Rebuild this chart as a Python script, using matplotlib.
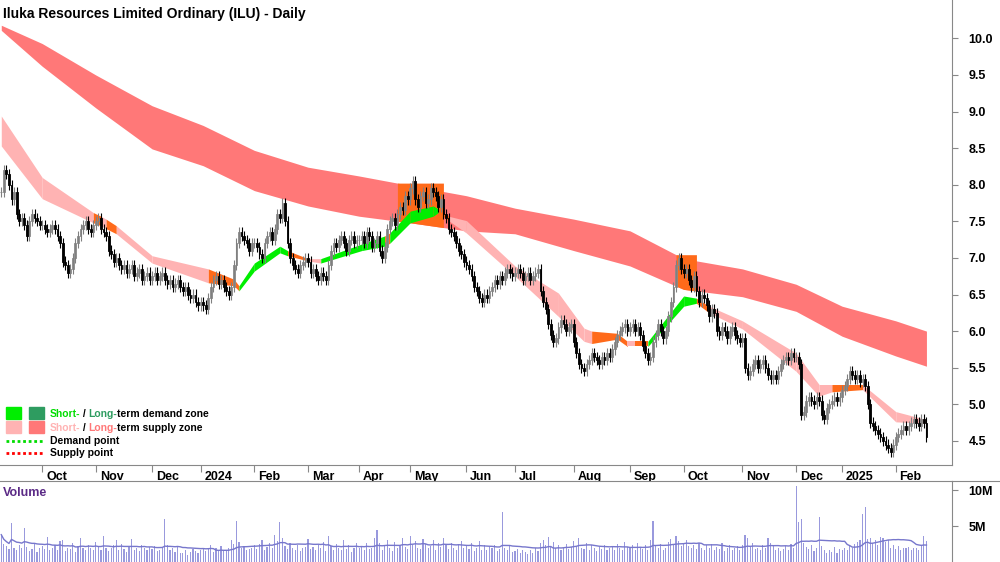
import numpy as np
import pandas as pd
import matplotlib
matplotlib.use('Agg')
import matplotlib.pyplot as plt

plt.rcParams['font.family'] = ['Liberation Sans', 'DejaVu Sans']

# daily closes by month (year, month)
months = [(2023, 9), (2023, 10), (2023, 11), (2023, 12), (2024, 1), (2024, 2), (2024, 3),
          (2024, 4), (2024, 5), (2024, 6), (2024, 7), (2024, 8), (2024, 9), (2024, 10),
          (2024, 11), (2024, 12), (2025, 1), (2025, 2)]
month_labels = ['Oct', 'Nov', 'Dec', '2024', 'Feb', 'Mar', 'Apr', 'May', 'Jun', 'Jul',
                'Aug', 'Sep', 'Oct', 'Nov', 'Dec', '2025', 'Feb']

closes = [
    [7.9, 8.2, 8.15, 8.0, 7.8, 7.9, 7.6, 7.5, 7.55, 7.45, 7.3, 7.5, 7.6, 7.55, 7.5, 7.45],
    [7.45, 7.4, 7.35, 7.4, 7.45, 7.4, 7.3, 7.2, 6.95, 6.9, 6.8, 6.85, 7.0, 7.2, 7.3, 7.4, 7.45, 7.5, 7.4, 7.35, 7.45],
    [7.5, 7.55, 7.4, 7.35, 7.3, 7.1, 7.05, 6.95, 7.0, 6.9, 6.85, 6.9, 6.8, 6.85, 6.9, 6.75, 6.8, 6.85, 6.7, 6.75, 6.8, 6.7],
    [6.75, 6.8, 6.7, 6.75, 6.8, 6.7, 6.65, 6.7, 6.6, 6.65, 6.7, 6.6, 6.55, 6.6, 6.5, 6.45, 6.5, 6.4, 6.35],
    [6.4, 6.35, 6.3, 6.45, 6.6, 6.7, 6.75, 6.65, 6.7, 6.6, 6.55, 6.5, 6.6, 6.9, 7.2, 7.35, 7.3, 7.25, 7.2, 7.1, 7.2],
    [7.2, 7.15, 7.05, 7.0, 7.2, 7.3, 7.35, 7.25, 7.4, 7.6, 7.55, 7.75, 7.5, 7.2, 7.0, 6.9, 6.85, 6.8, 6.9, 6.95, 7.0],
    [6.95, 6.8, 6.85, 6.75, 6.7, 6.8, 6.75, 6.7, 6.9, 7.1, 7.2, 7.15, 7.25, 7.3, 7.2, 7.1, 7.25, 7.3, 7.2, 7.25],
    [7.25, 7.3, 7.2, 7.35, 7.3, 7.15, 7.2, 7.3, 7.1, 7.0, 7.15, 7.4, 7.5, 7.55, 7.45, 7.6, 7.7, 7.65, 7.85, 7.8],
    [7.95, 8.05, 7.8, 7.7, 7.85, 7.9, 7.75, 7.8, 7.95, 7.9, 7.85, 7.7, 7.8, 7.6, 7.55, 7.4, 7.35, 7.3, 7.2, 7.1, 7.05, 6.95],
    [6.9, 6.85, 6.75, 6.6, 6.55, 6.45, 6.4, 6.5, 6.45, 6.55, 6.6, 6.7, 6.65, 6.75, 6.7, 6.8, 6.85, 6.8, 6.75],
    [6.8, 6.85, 6.8, 6.7, 6.75, 6.8, 6.7, 6.75, 6.8, 6.85, 6.55, 6.4, 6.3, 6.1, 5.95, 5.85, 5.9, 6.05, 6.15, 6.1, 6.0, 6.05, 6.1],
    [5.85, 5.7, 5.55, 5.5, 5.45, 5.55, 5.6, 5.7, 5.65, 5.6, 5.55, 5.65, 5.6, 5.7, 5.65, 5.75, 5.85, 5.95, 6.0, 6.05, 6.1, 6.0],
    [6.05, 6.1, 6.0, 6.05, 5.95, 5.8, 5.7, 5.6, 5.65, 5.85, 5.95, 6.1, 6.0, 5.9, 6.0, 6.2, 6.4, 6.6, 6.9, 7.0, 6.85],
    [6.8, 6.85, 6.7, 6.6, 6.75, 6.55, 6.4, 6.5, 6.45, 6.35, 6.2, 6.3, 6.25, 6.0, 5.95, 6.05, 6.0, 5.9, 6.0, 6.05, 5.95, 5.9, 5.85],
    [5.9, 5.5, 5.4, 5.45, 5.55, 5.6, 5.5, 5.55, 5.6, 5.5, 5.4, 5.35, 5.4, 5.35, 5.45, 5.55, 5.6, 5.65, 5.6, 5.7, 5.65],
    [5.65, 5.55, 4.85, 4.9, 5.05, 5.1, 5.05, 5.0, 5.1, 5.05, 4.85, 4.8, 4.95, 5.0, 5.05, 5.1, 5.05, 5.1],
    [5.2, 5.25, 5.35, 5.45, 5.4, 5.35, 5.4, 5.3, 5.35, 5.25, 5.0, 4.75, 4.7, 4.65, 4.6, 4.55, 4.5, 4.45, 4.4, 4.35, 4.45],
    [4.55, 4.6, 4.65, 4.7, 4.65, 4.7, 4.75, 4.8, 4.75, 4.7, 4.8, 4.75, 4.55],
]

# daily volume (millions)
volumes = [
    [3.8, 2.5, 2.2, 1.8, 5.4, 2.0, 1.6, 2.4, 1.9, 4.7, 2.1, 1.5, 1.8, 2.6, 1.4, 2.0],
    [2.2, 1.8, 3.5, 1.6, 2.0, 2.4, 1.7, 2.9, 3.1, 1.5, 2.0, 1.8, 2.6, 1.4, 2.2, 3.3, 1.9, 1.7, 2.4, 2.0, 1.6],
    [2.8, 2.1, 1.7, 3.6, 2.0, 1.5, 1.9, 2.3, 3.0, 1.6, 2.5, 1.8, 1.4, 2.2, 3.2, 1.7, 2.0, 1.5, 2.4, 1.9, 1.6, 2.1],
    [1.8, 2.2, 1.5, 1.7, 2.0, 6.0, 2.4, 1.6, 1.9, 1.4, 2.1, 1.3, 1.2, 1.6, 1.0, 1.4, 1.8, 1.5, 1.2],
    [1.6, 2.0, 1.5, 1.8, 2.4, 1.4, 1.9, 1.7, 2.2, 1.5, 1.6, 2.0, 3.1, 2.5, 5.7, 2.8, 1.9, 2.2, 1.6, 1.8, 2.0],
    [2.3, 1.8, 2.5, 3.0, 1.7, 2.1, 2.6, 1.9, 3.8, 2.9, 5.5, 3.4, 2.2, 1.8, 2.6, 2.0, 1.7, 2.4, 1.5, 1.9, 2.1],
    [3.2, 1.8, 2.1, 1.6, 2.4, 1.9, 2.8, 1.5, 3.6, 2.2, 1.7, 2.5, 2.0, 1.6, 3.0, 1.8, 2.3, 1.4, 1.9, 2.6],
    [1.9, 2.2, 1.6, 2.7, 1.8, 2.0, 3.3, 4.5, 2.6, 1.7, 2.4, 3.1, 2.0, 1.5, 2.8, 1.9, 2.2, 3.4, 2.1, 1.8],
    [3.6, 2.4, 2.9, 2.0, 1.8, 3.2, 2.5, 1.9, 2.2, 3.0, 1.7, 2.6, 2.1, 3.4, 2.3, 1.8, 2.7, 2.0, 1.6, 2.4, 2.9, 1.9],
    [2.2, 1.8, 2.6, 1.5, 2.0, 2.9, 1.7, 2.3, 1.6, 2.1, 1.9, 2.4, 1.5, 1.8, 7.0, 2.0, 1.6, 2.2, 1.4],
    [1.5, 1.8, 1.2, 1.6, 1.4, 1.1, 1.7, 1.3, 1.9, 1.5, 2.6, 3.1, 2.4, 3.5, 2.2, 2.8, 1.9, 2.4, 1.7, 2.0, 2.5, 1.8, 2.1],
    [2.9, 2.2, 3.4, 2.0, 1.8, 2.6, 1.7, 2.3, 1.9, 1.5, 2.1, 1.8, 2.4, 1.6, 1.9, 2.2, 1.7, 2.5, 2.0, 1.6, 2.8, 2.1],
    [1.9, 2.3, 1.7, 2.6, 2.1, 1.8, 2.4, 1.6, 3.1, 5.7, 2.2, 1.9, 2.5, 1.7, 2.0, 2.8, 3.2, 2.4, 3.6, 2.9, 2.2],
    [2.6, 3.0, 2.2, 1.9, 2.4, 1.8, 2.7, 2.0, 1.6, 2.3, 1.9, 2.5, 1.7, 2.1, 1.8, 2.6, 1.5, 2.0, 2.4, 1.7, 1.9, 2.2, 1.6],
    [2.4, 3.8, 3.4, 2.1, 2.7, 1.8, 2.0, 1.6, 2.3, 1.9, 3.3, 2.6, 2.2, 1.7, 2.0, 1.5, 1.8, 2.2, 1.6, 2.5, 1.9],
    [10.5, 5.6, 6.0, 2.6, 2.1, 1.8, 2.3, 1.5, 2.0, 6.3, 2.2, 1.7, 1.2, 1.6, 1.4, 2.1, 1.3, 1.8],
    [1.6, 2.0, 1.7, 2.3, 1.9, 2.5, 2.8, 3.0, 6.7, 7.6, 3.2, 3.3, 2.6, 3.1, 2.4, 3.5, 3.3, 2.8, 3.1, 2.0, 2.4],
    [1.8, 2.2, 1.6, 2.0, 1.9, 2.1, 1.7, 1.9, 2.0, 1.6, 2.3, 3.6, 2.9],
]

# long-term supply band
long_dates = ['2023-09-08', '2023-10-02', '2023-11-01', '2023-12-01', '2024-01-02', '2024-02-01',
              '2024-03-01', '2024-04-01', '2024-05-01', '2024-06-03', '2024-07-01', '2024-08-01',
              '2024-09-02', '2024-10-01', '2024-11-01', '2024-12-02', '2025-01-01', '2025-02-03', '2025-02-19']
long_hi = [10.18, 9.93, 9.50, 9.08, 8.81, 8.47, 8.24, 8.12, 7.99, 7.85, 7.68, 7.53, 7.37, 6.99, 6.85, 6.64, 6.34, 6.14, 6.0]
long_lo = [10.11, 9.62, 9.05, 8.49, 8.26, 7.92, 7.71, 7.57, 7.48, 7.37, 7.33, 7.10, 6.89, 6.57, 6.47, 6.27, 5.93, 5.66, 5.52]
# periods where price overlaps the long-term band
overlap_periods = [('2024-04-22', '2024-05-20'), ('2024-09-26', '2024-10-08')]

# short-term band, with zone type for the segment starting at each date
short_dates = ['2023-09-08', '2023-10-02', '2023-10-30', '2023-11-03', '2023-11-07', '2023-11-13',
               '2023-12-01', '2024-01-04', '2024-01-18', '2024-01-22', '2024-02-01', '2024-02-15',
               '2024-02-20', '2024-03-01', '2024-03-08', '2024-04-02', '2024-04-15', '2024-04-17',
               '2024-05-01', '2024-05-14', '2024-05-16', '2024-05-22', '2024-06-03', '2024-07-01',
               '2024-07-24', '2024-08-07', '2024-08-12', '2024-08-26', '2024-08-30', '2024-09-04',
               '2024-09-11', '2024-10-01', '2024-10-08', '2024-10-15', '2024-11-01', '2024-12-02',
               '2024-12-13', '2024-12-20', '2025-01-13', '2025-02-03', '2025-02-19']
short_hi = [8.94, 8.10, 7.62, 7.57, 7.53, 7.44, 7.03, 6.85, 6.71, 6.62, 6.93, 7.16, 7.10, 6.99, 6.99,
            7.19, 7.30, 7.34, 7.64, 7.71, 7.67, 7.57, 7.51, 6.89, 6.52, 6.04, 6.00, 5.97, 5.86, 5.86,
            5.86, 6.48, 6.45, 6.34, 6.14, 5.70, 5.27, 5.27, 5.27, 4.90, 4.79]
short_lo = [8.53, 7.81, 7.48, 7.44, 7.40, 7.33, 6.93, 6.66, 6.62, 6.55, 6.82, 7.07, 7.03, 6.96, 6.93,
            7.10, 7.16, 7.20, 7.48, 7.57, 7.62, 7.51, 7.34, 6.75, 6.20, 5.86, 5.83, 5.89, 5.79, 5.79,
            5.79, 6.34, 6.38, 6.25, 6.03, 5.45, 5.11, 5.17, 5.20, 4.76, 4.74]
short_zone = ['s', 's', 'o', 's', 'o', 's', 's', 'o', 'o', 'd', 'd', 'd', 'o', 's', 'd', 'd', 'o', 'd',
              'd', 'd', 'o', 's', 's', 's', 's', 's', 'o', 'o', 's', 'o', 'd', 'd', 'o', 's', 's', 's',
              's', 'o', 's', 's', 's']

zone_colors = {'s': '#ffb3b3', 'd': '#00ee00', 'o': '#ff6a1a'}
long_color = '#ff7878'

# build trading dates
dates = []
for (yr, mo), vals in zip(months, closes):
    start = pd.Timestamp(yr, mo, 1)
    days = pd.bdate_range(start, start + pd.offsets.MonthEnd(0))
    days = days[-len(vals):] if (yr, mo) == (2023, 9) else days[:len(vals)]
    dates.extend(days)
dates = pd.DatetimeIndex(dates)
close = np.concatenate([np.array(c) for c in closes])
vol = np.concatenate([np.array(v) for v in volumes])
n = len(close)
x = np.arange(n)

def to_x(ds):
    return np.searchsorted(dates, pd.to_datetime(ds))

opens = np.r_[close[0], close[:-1]]
highs = np.maximum(opens, close) + 0.07
lows = np.minimum(opens, close) - 0.07

fig = plt.figure(figsize=(10, 5.62), dpi=100)
ax = fig.add_axes([0, 0.1726, 0.952, 0.8274])
axv = fig.add_axes([0, 0, 0.952, 0.144])

# long-term band
lx = to_x(long_dates)
ax.fill_between(lx, long_lo, long_hi, color=long_color, lw=0)
for a, b in overlap_periods:
    xa, xb = to_x([a, b])
    xs = np.arange(xa, xb + 1)
    hi = np.interp(xs, lx, long_hi)
    lo = np.interp(xs, lx, long_lo)
    ax.fill_between(xs, lo, hi.max(), color='#ff6a1a', lw=0)

# short-term band
sx = to_x(short_dates)
for i in range(len(sx) - 1):
    ax.fill_between(sx[i:i + 2], short_lo[i:i + 2], short_hi[i:i + 2],
                    color=zone_colors[short_zone[i]], lw=0)

# candles
up = close >= opens
ax.vlines(x[up], lows[up], highs[up], color='#808080', lw=0.8)
ax.vlines(x[~up], lows[~up], highs[~up], color='black', lw=0.8)
ax.bar(x[up], close[up] - opens[up], bottom=opens[up], width=0.7,
       color='white', edgecolor='#808080', lw=0.6)
ax.bar(x[~up], close[~up] - opens[~up], bottom=opens[~up], width=0.7,
       color='black', edgecolor='black', lw=0.6)

ax.set_xlim(-0.5, n + 9)
ax.set_ylim(4.17, 10.525)
ax.yaxis.tick_right()
ticks = np.arange(4.5, 10.01, 0.5)
ax.set_yticks(ticks)
ax.set_yticklabels([f'{v:.1f}' for v in ticks], fontsize=9, fontweight='bold')
ax.tick_params(axis='y', length=4, pad=8, color='#888888')
for s in ['top', 'left']:
    ax.spines[s].set_visible(False)
ax.spines['right'].set_color('#888888')
ax.spines['bottom'].set_color('#888888')

# month ticks
mstarts = [np.searchsorted(dates, pd.Timestamp(yr, mo, 1)) for yr, mo in months[1:]]
ax.set_xticks(mstarts)
ax.set_xticklabels([])
ax.tick_params(axis='x', length=5, color='#888888', direction='out')
for m, lab in zip(mstarts, month_labels):
    ax.text(m + 1.5, -0.012, lab, transform=ax.get_xaxis_transform(), ha='left', va='top',
            fontsize=9, fontweight='bold')

ax.text(0.003, 0.985, 'Iluka Resources Limited Ordinary (ILU) - Daily', transform=ax.transAxes,
        ha='left', va='top', fontsize=10, fontweight='bold')

# legend
def colored_line(y, parts):
    t = ax.text(0.052, y, parts[0][0], color=parts[0][1], transform=ax.transAxes,
                fontsize=7.5, fontweight='bold', va='center', ha='left')
    for txt, col in parts[1:]:
        t = ax.annotate(txt, xycoords=t, xy=(1, 0), va='bottom', ha='left',
                        color=col, fontsize=7.5, fontweight='bold')

legend_y = [0.11, 0.08, 0.052, 0.026]
for y, c1, c2 in [(legend_y[0], '#00ee00', '#2e9c60'), (legend_y[1], '#ffb3b3', long_color)]:
    ax.add_patch(plt.Rectangle((0.006, y - 0.012), 0.016, 0.026, transform=ax.transAxes, color=c1))
    ax.add_patch(plt.Rectangle((0.030, y - 0.012), 0.016, 0.026, transform=ax.transAxes, color=c2))
colored_line(legend_y[0], [('Short-', '#00dd00'), (' / ', 'black'), ('Long-', '#2e9c60'),
                           ('term demand zone', 'black')])
colored_line(legend_y[1], [('Short-', '#ffb3b3'), (' / ', 'black'), ('Long-', long_color),
                           ('term supply zone', 'black')])
for y, col, lab in [(legend_y[2], '#00dd00', 'Demand point'), (legend_y[3], 'red', 'Supply point')]:
    ax.plot([0.006, 0.046], [y, y], transform=ax.transAxes, color=col, lw=2, ls=(0, (1, 1)))
    ax.text(0.052, y, lab, transform=ax.transAxes, fontsize=7.5, fontweight='bold', va='center')

# volume
axv.bar(x, vol, width=0.45, color='#9999dd')
ma = pd.Series(vol).rolling(20, min_periods=1).mean()
axv.plot(x, ma, color='#7777cc', lw=1)
axv.set_xlim(ax.get_xlim())
axv.set_ylim(0, 11.25)
axv.yaxis.tick_right()
axv.set_yticks([5, 10])
axv.set_yticklabels(['5M', '10M'], fontsize=9, fontweight='bold')
axv.tick_params(axis='y', length=4, pad=8, color='#888888')
axv.set_xticks([])
for s in ['left', 'bottom']:
    axv.spines[s].set_visible(False)
axv.spines['top'].set_color('#888888')
axv.spines['right'].set_color('#888888')
axv.text(0.003, 0.93, 'Volume', transform=axv.transAxes, ha='left', va='top',
         fontsize=9, fontweight='bold', color='#5b2a86')
fig.add_artist(plt.Line2D([0.952, 1], [0.144, 0.144], color='#888888', lw=0.8))

fig.savefig('out.png', dpi=100)
